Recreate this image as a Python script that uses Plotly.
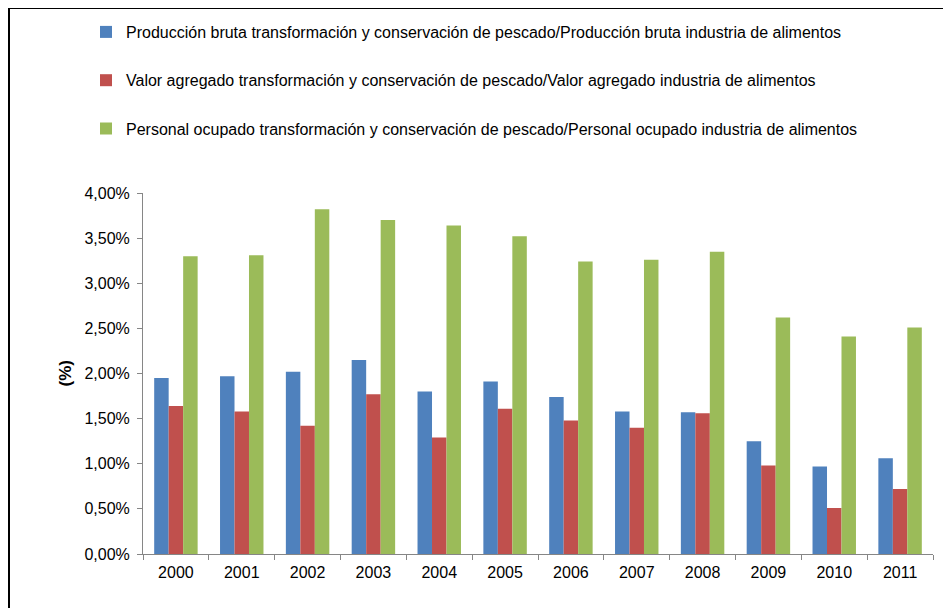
import plotly.graph_objects as go

years = ["2000", "2001", "2002", "2003", "2004", "2005", "2006", "2007", "2008", "2009", "2010", "2011"]
produccion = [1.95, 1.97, 2.02, 2.15, 1.80, 1.91, 1.74, 1.58, 1.57, 1.25, 0.97, 1.06]
valor = [1.64, 1.58, 1.42, 1.77, 1.29, 1.61, 1.48, 1.40, 1.56, 0.98, 0.51, 0.72]
personal = [3.30, 3.31, 3.82, 3.70, 3.64, 3.52, 3.24, 3.26, 3.35, 2.62, 2.41, 2.51]
names = [
    "Producción bruta transformación y conservación de pescado/Producción bruta industria de alimentos",
    "Valor agregado transformación y conservación de pescado/Valor agregado industria de alimentos",
    "Personal ocupado transformación y conservación de pescado/Personal ocupado industria de alimentos",
]
colors = ["#4F81BD", "#C0504D", "#9BBB59"]
y_ticks = [0, 0.5, 1.0, 1.5, 2.0, 2.5, 3.0, 3.5, 4.0]
y_ticktext = [("%.2f" % v).replace(".", ",") + "%" for v in y_ticks]
y_title = "(%)"

# page has an 8px body margin, so figure is 943x600 placed at (8, 8)
W, H = 943, 600
L, R, T, B = 135, 18, 185, 54

fig = go.Figure()
for i, (vals, name, c) in enumerate(zip([produccion, valor, personal], names, colors)):
    fig.add_trace(go.Bar(x=years, y=vals, name=name, marker_color=c,
                         marker_line_width=0, legendgroup="g%d" % i))

def px_to_paper_x(px):
    return (px - L) / (W - L - R)

def px_to_paper_y(py):
    return (H - B - py) / (H - T - B)

fig.update_layout(
    width=W, height=H,
    margin=dict(l=L, r=R, t=T, b=B, autoexpand=False),
    paper_bgcolor="white", plot_bgcolor="white",
    font=dict(family="Liberation Sans, Arial, sans-serif", size=16, color="#000000"),
    barmode="group", bargap=0.34, bargroupgap=0,
    showlegend=True,
    legend=dict(xref="container", yref="container",
                x=78 / W, xanchor="left", y=1 - 7 / H, yanchor="top",
                traceorder="grouped", tracegroupgap=24.5, itemwidth=30,
                font=dict(size=16), bgcolor="rgba(0,0,0,0)"),
    xaxis=dict(type="category", showline=True, linecolor="#868686", linewidth=1,
               ticks="outside", ticklen=5, tickcolor="#868686", tickson="boundaries",
               showgrid=False, tickfont=dict(size=16), ticklabelstandoff=4),
    yaxis=dict(range=[0, 4], tickvals=y_ticks, ticktext=y_ticktext,
               showline=True, linecolor="#868686", linewidth=1,
               ticks="outside", ticklen=5, tickcolor="#868686", showgrid=False,
               zeroline=False, tickfont=dict(size=16), ticklabelstandoff=4),
    annotations=[
        dict(text="<b>%s</b>" % y_title, xref="paper", yref="paper",
             x=px_to_paper_x(57), y=0.5, textangle=-90, showarrow=False,
             font=dict(size=17), xanchor="center", yanchor="middle"),
    ],
    shapes=[
        dict(type="line", xref="paper", yref="paper",
             x0=px_to_paper_x(0), x1=px_to_paper_x(W + 5),
             y0=px_to_paper_y(0), y1=px_to_paper_y(0),
             line=dict(color="black", width=2)),
        dict(type="line", xref="paper", yref="paper",
             x0=px_to_paper_x(1), x1=px_to_paper_x(1),
             y0=px_to_paper_y(-1), y1=px_to_paper_y(H + 5),
             line=dict(color="black", width=2)),
    ],
)

fig.write_html("out.html")
